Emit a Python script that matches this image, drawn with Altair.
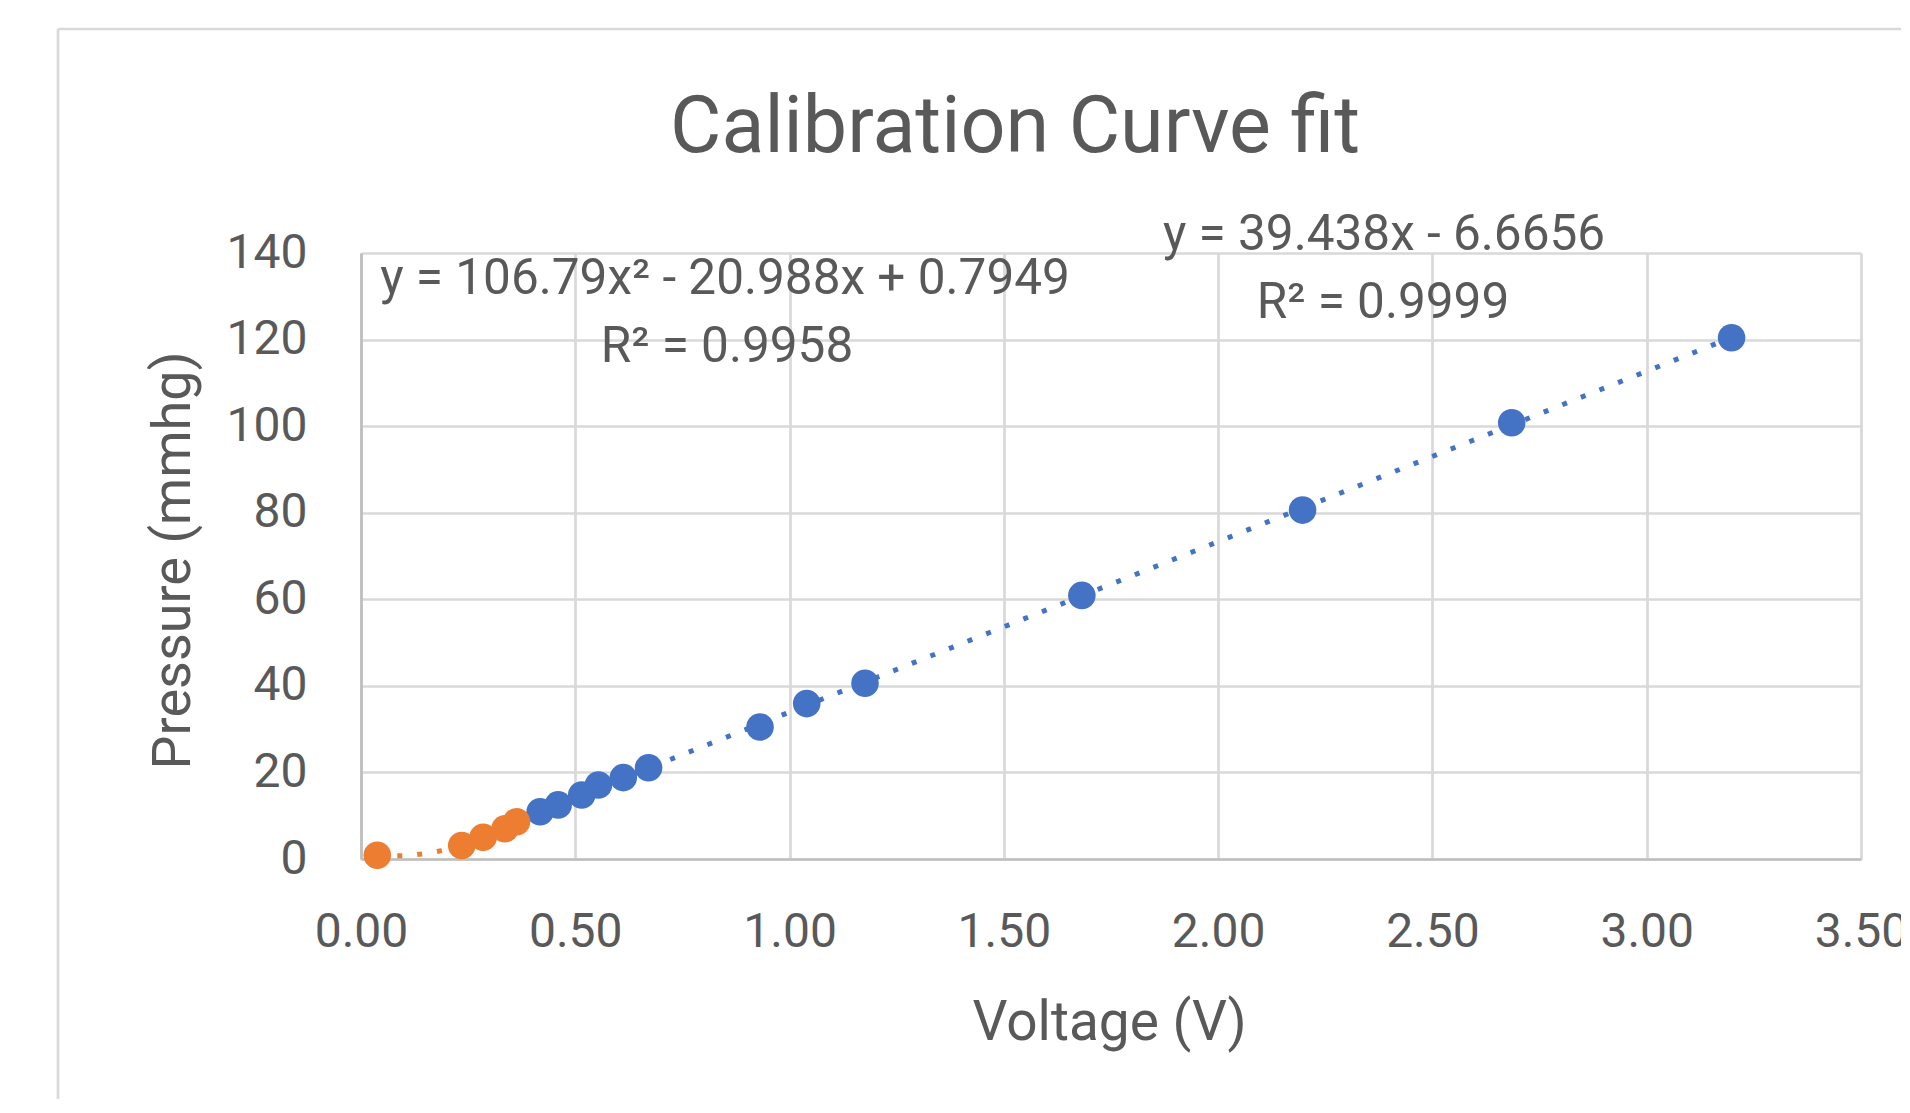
import altair as alt
import pandas as pd

# ---- data ----
blue_voltage = [0.418, 0.460, 0.515, 0.554, 0.612, 0.671, 0.931, 1.040, 1.176, 1.682, 2.197, 2.685, 3.198]
blue_pressure = [10.9, 12.5, 14.8, 17.1, 18.8, 21.1, 30.5, 35.9, 40.6, 60.9, 80.6, 100.8, 120.4]
orange_voltage = [0.038, 0.235, 0.285, 0.336, 0.363]
orange_pressure = [0.85, 3.1, 5.0, 7.0, 8.6]

x_ticks = [0.0, 0.5, 1.0, 1.5, 2.0, 2.5, 3.0, 3.5]
y_ticks = [0, 20, 40, 60, 80, 100, 120, 140]

title_text = "Calibration Curve fit"
x_title = "Voltage (V)"
y_title = "Pressure (mmhg)"
poly_eq = "y = 106.79x² - 20.988x + 0.7949"
poly_r2 = "R² = 0.9958"
lin_eq = "y = 39.438x - 6.6656"
lin_r2 = "R² = 0.9999"

# ---- styling ----
BLUE = "#4472C4"
ORANGE = "#ED7D31"
GRAY = "#595959"
GRID = "#d9d9d9"
FONT = "Roboto"

blue_df = pd.DataFrame({"Voltage": blue_voltage, "Pressure": blue_pressure})
orange_df = pd.DataFrame({"Voltage": orange_voltage, "Pressure": orange_pressure})

x_enc = alt.X(
    "Voltage:Q",
    scale=alt.Scale(domain=[0, 3.5], nice=False, zero=False),
    axis=alt.Axis(
        values=x_ticks, format=".2f", title=x_title,
        grid=True, gridColor=GRID, gridWidth=2.7,
        domainColor="#bfbfbf", domainWidth=2.7,
        ticks=False, tickSize=0,
        labelFont=FONT, labelFontSize=48, labelColor=GRAY,
        labelPadding=87, labelBaseline="alphabetic",
        labelFlush=False, labelOverlap=False,
        titleFont=FONT, titleFontSize=55, titleColor=GRAY, titleFontWeight="normal",
        titleBaseline="alphabetic", titleY=180, titleX=748,
    ),
)
y_enc = alt.Y(
    "Pressure:Q",
    scale=alt.Scale(domain=[0, 140], nice=False, zero=False),
    axis=alt.Axis(
        values=y_ticks, format="d", title=y_title,
        grid=True, gridColor=GRID, gridWidth=2.7,
        domainColor="#bfbfbf", domainWidth=2.7,
        ticks=False, tickSize=0,
        labelFont=FONT, labelFontSize=48, labelColor=GRAY,
        labelPadding=54, labelBaseline="middle",
        labelFlush=False, labelOverlap=False,
        titleFont=FONT, titleFontSize=54, titleColor=GRAY, titleFontWeight="normal",
        titleBaseline="alphabetic", titleAngle=270, titleX=-172, titleY=307,
    ),
)

one = alt.Data(values=[{"k": 1}])

border_left = alt.Chart(one).mark_rule(color=GRID, strokeWidth=2.7).encode(
    x=alt.value(-303), y=alt.value(-224), y2=alt.value(1200)
)
border_top = alt.Chart(one).mark_rule(color=GRID, strokeWidth=2.7).encode(
    x=alt.value(-303), x2=alt.value(2000), y=alt.value(-224)
)

blue_fit = alt.Chart(blue_df).transform_regression(
    "Voltage", "Pressure", method="linear"
).mark_line(color=BLUE, strokeWidth=5, strokeDash=[5, 15], strokeCap="butt").encode(x=x_enc, y=y_enc)

orange_fit = alt.Chart(orange_df).transform_regression(
    "Voltage", "Pressure", method="poly", order=2
).mark_line(color=ORANGE, strokeWidth=5, strokeDash=[5, 15], strokeCap="butt").encode(x=x_enc, y=y_enc)

blue_pts = alt.Chart(blue_df).mark_circle(size=760, color=BLUE, opacity=1).encode(x=x_enc, y=y_enc)
orange_pts = alt.Chart(orange_df).mark_circle(size=760, color=ORANGE, opacity=1).encode(x=x_enc, y=y_enc)


def label(txt, x, y, size):
    return alt.Chart(alt.Data(values=[{"t": txt}])).mark_text(
        font=FONT, fontSize=size, color=GRAY, align="center", baseline="alphabetic"
    ).encode(text="t:N", x=alt.value(x), y=alt.value(y))


texts = [
    label(title_text, 654, -101, 79),
    label(poly_eq, 364, 41, 49.5),
    label(poly_r2, 366, 109, 49.5),
    label(lin_eq, 1023, -3, 49.5),
    label(lin_r2, 1022, 65, 49.5),
]

chart = alt.layer(
    border_left, border_top, blue_fit, orange_fit, blue_pts, orange_pts, *texts
).properties(
    width=1500,
    height=606,
    autosize=alt.AutoSizeParams(type="none"),
    padding={"left": 353, "top": 245, "right": 40, "bottom": 240},
    background="white",
).configure_view(stroke=None)

chart.save("out.html", embed_options={"renderer": "svg", "actions": False})
